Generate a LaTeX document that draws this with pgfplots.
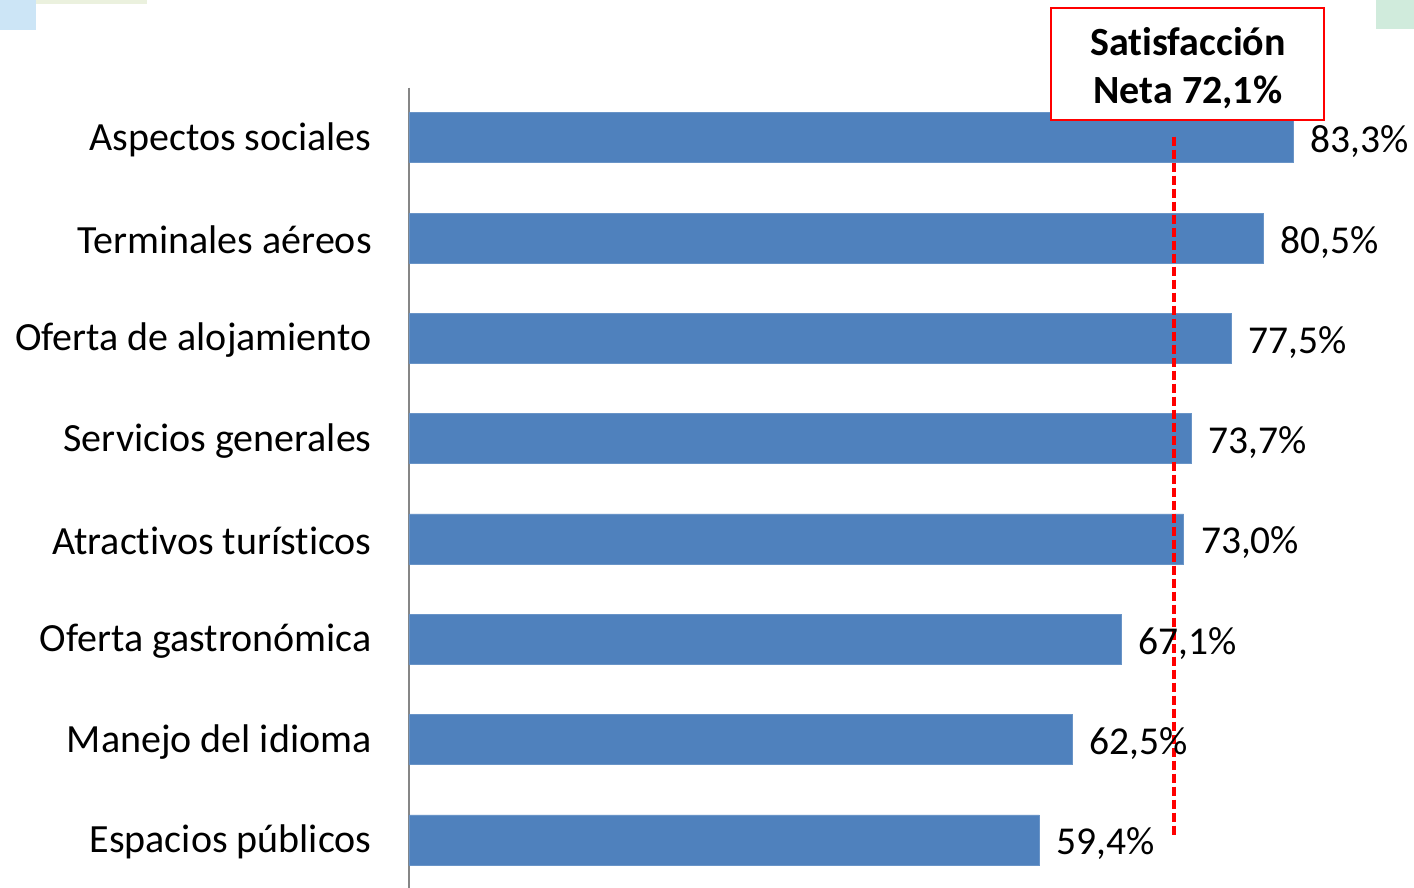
\documentclass[border=0pt]{standalone}
\usepackage{fontspec}
\setmainfont{Carlito}[Ligatures={NoCommon,NoRare}]
\usepackage{pgfplots}
\pgfplotsset{compat=1.18}
\definecolor{barblue}{HTML}{4F81BD}
\definecolor{axgray}{HTML}{868686}
\definecolor{decoblue}{HTML}{CCE5F6}
\definecolor{decogreen}{HTML}{EBF1DE}
\definecolor{decogreen2}{HTML}{D0EBDC}
\begin{document}
\begin{tikzpicture}
\useasboundingbox (-204.5pt,0pt) rectangle (502.5pt,444pt);
\fill[decoblue] (-204.5pt,444pt) rectangle (-186.5pt,429pt);
\fill[decogreen] (-186.5pt,444pt) rectangle (-131pt,442pt);
\fill[decogreen2] (483.5pt,444pt) rectangle (502.5pt,429.5pt);
\begin{axis}[
  at={(0pt,0pt)}, anchor=south west,
  scale only axis,
  width=502.5pt, height=400.2pt,
  xbar, bar width=25pt,
  xmin=0, xmax=94.7,
  ymin=-0.5, ymax=7.48,
  y dir=reverse,
  clip=false,
  axis x line=none,
  axis y line*=left,
  y axis line style={draw=axgray, line width=1pt},
  major tick length=0pt,
  ytick={0,...,7},
  yticklabels={Aspectos sociales, Terminales aéreos, Oferta de alojamiento, Servicios generales, Atract\kern0pt ivos turíst\kern0pt icos, Oferta gastronómica, Manejo del idioma, Espacios públicos},
  yticklabel style={font=\fontsize{20}{24}\selectfont, inner sep=0pt, anchor=east, xshift=-18.5pt, yshift=-1pt},
  point meta=explicit,
  nodes near coords={\pgfmathprintnumber[fixed,fixed zerofill,precision=1,use comma,assume math mode=true]{\pgfplotspointmeta}\%},
  every node near coord/.append style={font=\fontsize{19.75}{24}\selectfont, anchor=west, inner sep=0pt, xshift=8.5pt, yshift=-2pt, text=black},
]
\addplot[fill=barblue, draw=barblue!85!white, line width=0.3pt] coordinates {
  (83.3,0) [83.3]
  (80.5,1) [80.5]
  (77.5,2) [77.5]
  (73.7,3) [73.7]
  (73.0,4) [73.0]
  (67.1,5) [67.1]
  (62.5,6) [62.5]
  (59.4,7) [59.4]
};
\draw[red, line width=1pt, fill=white] (axis cs:60.5,-1.296) rectangle (axis cs:86.2,-0.179);
\node[align=center, font=\fontsize{20}{24}\selectfont\bfseries, inner sep=0pt] at (axis cs:73.4,-0.693) {Sat\kern0pt isfacción\\Neta 72,1\%};
\draw[red, line width=1.8pt, dash pattern=on 4.5pt off 2pt] (axis cs:72.1,-0.01) -- (axis cs:72.1,6.95);
\end{axis}
\end{tikzpicture}
\end{document}
